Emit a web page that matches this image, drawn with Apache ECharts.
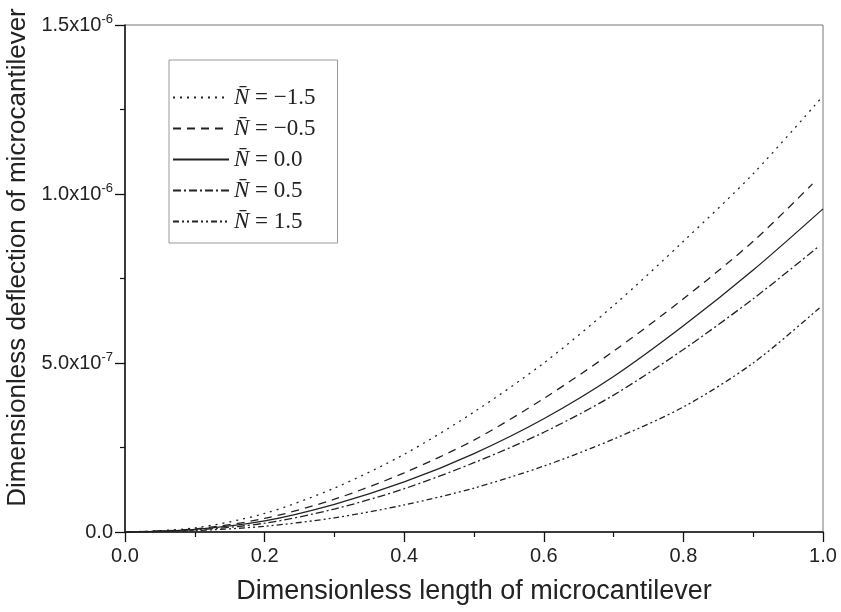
<!DOCTYPE html>
<html>
<head>
<meta charset="utf-8">
<script src="https://cdn.jsdelivr.net/npm/echarts@6/dist/echarts.min.js"></script>
<style>
  html, body { margin: 0; padding: 0; background: #fff; }
  #chart { width: 841px; height: 612px; }
</style>
</head>
<body>
<div id="chart"></div>
<script>
// x positions along the beam
const xs = [0, 0.1, 0.2, 0.3, 0.4, 0.5, 0.6, 0.7, 0.8, 0.9, 1.0];

// deflection values, in units of 1e-6
const nMinus15 = [0, 0.012, 0.055, 0.130, 0.230, 0.355, 0.500, 0.670, 0.860, 1.060, 1.290];
const nMinus05 = [0, 0.009, 0.040, 0.097, 0.175, 0.272, 0.395, 0.535, 0.690, 0.860, 1.030];
const nZero    = [0, 0.008, 0.033, 0.082, 0.148, 0.232, 0.335, 0.460, 0.610, 0.775, 0.956];
const nPlus05  = [0, 0.006, 0.026, 0.068, 0.128, 0.205, 0.295, 0.405, 0.540, 0.690, 0.845];
const nPlus15  = [0, 0.004, 0.017, 0.042, 0.080, 0.130, 0.195, 0.275, 0.370, 0.500, 0.663];

// some curves stop a little short of x = 1
const lastX = {'-1.5': 1.0, '-0.5': 0.985, '0.0': 1.0, '0.5': 0.994, '1.5': 0.995};

const seriesDefs = [
  { key: '-1.5', label: '\u22121.5', values: nMinus15, dash: [2, 5] },
  { key: '-0.5', label: '\u22120.5', values: nMinus05, dash: [8, 6] },
  { key: '0.0',  label: '0.0',       values: nZero,    dash: 'solid' },
  { key: '0.5',  label: '0.5',       values: nPlus05,  dash: [8, 3, 2, 3] },
  { key: '1.5',  label: '1.5',       values: nPlus15,  dash: [6, 3, 2, 3, 2, 3] }
];

const supLabels = { 0: '0.0', 0.5: '5.0x10{sup|-7}', 1: '1.0x10{sup|-6}', 1.5: '1.5x10{sup|-6}' };

const chart = echarts.init(document.getElementById('chart'));

const series = seriesDefs.map(d => ({
  name: d.key,
  type: 'line',
  smooth: 0.3,
  symbol: 'none',
  data: xs.map((x, i) => [i === xs.length - 1 ? lastX[d.key] : x, d.values[i]]),
  lineStyle: { color: '#222', width: 1.3, type: d.dash },
  itemStyle: { color: '#222' }
}));

const labelOf = {};
seriesDefs.forEach(d => { labelOf[d.key] = d.label; });

chart.setOption({
  animation: false,
  backgroundColor: '#fff',
  grid: {
    left: 125, right: 18, top: 25, bottom: 80,
    outerBoundsMode: 'none',
    containLabel: false,
    show: true, borderColor: '#777', borderWidth: 1
  },
  legend: {
    orient: 'vertical',
    left: 169, top: 60,
    backgroundColor: '#fff',
    borderColor: '#999', borderWidth: 1,
    padding: [26, 22, 10, 3],
    itemGap: 8,
    itemWidth: 56, itemHeight: 14,
    itemStyle: { opacity: 0 },
    formatter: name => '{n|N\u0304}{t| = ' + labelOf[name] + '}',
    textStyle: {
      rich: {
        n: { fontFamily: 'Liberation Serif', fontStyle: 'italic', fontSize: 23, lineHeight: 24, color: '#222' },
        t: { fontFamily: 'Liberation Serif', fontSize: 23, lineHeight: 24, color: '#222' }
      }
    }
  },
  xAxis: {
    type: 'value',
    min: 0, max: 1, interval: 0.2,
    splitLine: { show: false },
    axisLine: { onZero: false, lineStyle: { color: '#111', width: 1.5 } },
    axisTick: { length: 10, lineStyle: { color: '#111', width: 1.3 } },
    minorTick: { show: true, splitNumber: 2, length: 5, lineStyle: { color: '#111', width: 1.2 } },
    axisLabel: {
      margin: 14, fontFamily: 'Liberation Sans', fontSize: 20, color: '#222',
      formatter: v => v.toFixed(1)
    },
    name: 'Dimensionless length of microcantilever',
    nameLocation: 'middle', nameGap: 46,
    nameTextStyle: { fontFamily: 'Liberation Sans', fontSize: 27, color: '#222' }
  },
  yAxis: {
    type: 'value',
    min: 0, max: 1.5, interval: 0.5,
    splitLine: { show: false },
    axisLine: { onZero: false, lineStyle: { color: '#111', width: 1.5 } },
    axisTick: { length: 10, lineStyle: { color: '#111', width: 1.3 } },
    minorTick: { show: true, splitNumber: 2, length: 5, lineStyle: { color: '#111', width: 1.2 } },
    axisLabel: {
      margin: 12, fontFamily: 'Liberation Sans', fontSize: 20, color: '#222',
      formatter: v => supLabels[v],
      rich: {
        sup: { fontFamily: 'Liberation Sans', fontSize: 13, color: '#222', verticalAlign: 'top', padding: [0, 0, 12, 0] }
      }
    },
    name: 'Dimensionless deflection of microcantilever',
    nameLocation: 'middle', nameGap: 86, nameRotate: 90,
    nameTextStyle: { fontFamily: 'Liberation Sans', fontSize: 26, color: '#222', padding: [0, 0, 0, 42] }
  },
  series: series
});
</script>
</body>
</html>
